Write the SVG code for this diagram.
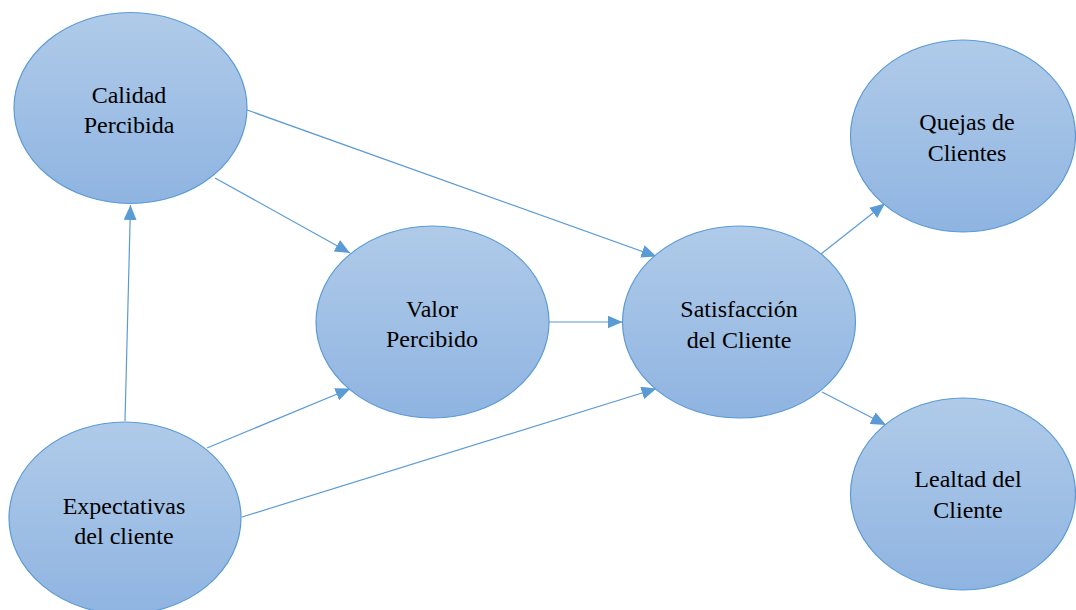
<svg xmlns="http://www.w3.org/2000/svg" width="1076" height="610" viewBox="0 0 1076 610">
<defs>
<linearGradient id="g" x1="0" y1="0" x2="0" y2="1">
<stop offset="0" stop-color="#b0cbe9"/>
<stop offset="1" stop-color="#8fb4e1"/>
</linearGradient>
<marker id="ah" markerUnits="userSpaceOnUse" markerWidth="15" markerHeight="13" refX="15" refY="6.5" orient="auto">
<path d="M0,0 L15,6.5 L0,13 z" fill="#5b9bd5"/>
</marker>
</defs>
<style>
.n ellipse{fill:url(#g);stroke:#5b9bd5;stroke-width:1.2}
.n text{font-family:"Liberation Serif","Times New Roman",serif;font-size:24px;fill:#000;text-anchor:middle}
.c line{stroke:#5b9bd5;stroke-width:1.2;marker-end:url(#ah)}
</style>
<rect width="1076" height="610" fill="#fff"/>
<g class="c" id="connectors">
<line x1="125" y1="421" x2="130.5" y2="205"/>
<line x1="215" y1="178" x2="350" y2="253"/>
<line x1="247" y1="110" x2="656.5" y2="256.5"/>
<line x1="549" y1="322" x2="622.5" y2="322"/>
<line x1="207" y1="448" x2="350.5" y2="388.5"/>
<line x1="242" y1="517" x2="656.5" y2="388.5"/>
<line x1="821" y1="254" x2="885" y2="203.5"/>
<line x1="822" y1="392" x2="886" y2="425"/>
</g>
<g class="n" id="calidad">
<ellipse cx="130.5" cy="108" rx="116.5" ry="95.5"/>
<text x="129" y="103">Calidad</text>
<text x="129" y="133">Percibida</text>
</g>
<g class="n" id="valor">
<ellipse cx="432.5" cy="322" rx="116.5" ry="96"/>
<text x="432" y="317">Valor</text>
<text x="432" y="347">Percibido</text>
</g>
<g class="n" id="satisfaccion">
<ellipse cx="739" cy="322" rx="116.5" ry="96"/>
<text x="739" y="317">Satisfacción</text>
<text x="739" y="348">del Cliente</text>
</g>
<g class="n" id="quejas">
<ellipse cx="963" cy="136" rx="112.5" ry="96"/>
<text x="967" y="130">Quejas de</text>
<text x="967" y="161">Clientes</text>
</g>
<g class="n" id="lealtad">
<ellipse cx="963" cy="494" rx="112.5" ry="96"/>
<text x="968" y="487">Lealtad del</text>
<text x="968" y="518">Cliente</text>
</g>
<g class="n" id="expectativas">
<ellipse cx="125" cy="518" rx="116" ry="96"/>
<text x="124" y="514">Expectativas</text>
<text x="124" y="544">del cliente</text>
</g>
</svg>
